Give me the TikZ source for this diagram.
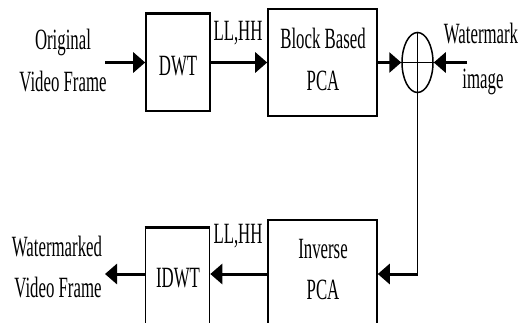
\documentclass[tikz,border=0pt]{standalone}
\usepackage{fontspec}
\setmainfont{Liberation Serif}
\usetikzlibrary{arrows.meta,shapes.geometric}
\begin{document}
\begin{tikzpicture}[x=1pt,y=-1pt,
  box/.style={draw,line width=1.6pt,rectangle,inner sep=0pt},
  lbl/.style={inner sep=0pt,yscale=1.75,font=\fontsize{16.8}{20}\selectfont},
  arr/.style={line width=3pt,-{Triangle[length=12pt,width=20pt]}},
  thin/.style={line width=1.5pt}]
\useasboundingbox (0,0) rectangle (527,323);
\clip (0,0) rectangle (527,323);
% boxes
\node[box,minimum width=64pt,minimum height=97pt] (dwt) at (178,62.5) {};
\node[box,minimum width=109pt,minimum height=107pt] (bpca) at (322.5,62.5) {};
\node[box,minimum width=109pt,minimum height=108pt] (ipca) at (322.5,274) {};
\node[box,minimum width=64pt,minimum height=100pt] (idwt) at (177.5,278) {};
\node[draw,thin,ellipse,minimum width=31pt,minimum height=60pt,inner sep=0pt] (sum) at (417.5,62.5) {};
\draw[line width=3pt] (dwt.north west) -- (dwt.north east);
\draw[line width=2.5pt] (idwt.north west) -- (idwt.north east);
% box texts
\node[lbl] (tdwt) at (178,66) {DWT};
\node[lbl] (tb1) at (323,38) {Block Based};
\node[lbl] (tb2) at (323,81) {PCA};
\node[lbl] (ti1) at (323,249) {Inverse};
\node[lbl] (ti2) at (323,290) {PCA};
\node[lbl] (tidwt) at (178,278) {IDWT};
% outer labels
\node[lbl] (o1) at (63,42) {Original};
\node[lbl] (o2) at (63,82) {Video Frame};
\node[lbl] (w1) at (57,247) {Watermarked};
\node[lbl] (w2) at (58,288) {Video Frame};
\node[lbl] (ll1) at (238,33) {LL,HH};
\node[lbl] (ll2) at (238,236) {LL,HH};
\node[lbl] (wm1) at (481,34) {Watermark};
\node[lbl] (wm2) at (483,82) {image};
% coordinates
\coordinate (in) at (105,62.5);
\coordinate (out) at (105,274);
\coordinate (wm) at (467,62.5);
\coordinate (turn) at (417.5,274);
% cross inside summing junction
\draw[thin] (sum.north) -- (sum.south);
\draw[thin] (sum.west) -- (sum.east);
% connectors
\draw[arr] (in) -- (dwt.west);
\draw[arr] (dwt.east) -- (bpca.west);
\draw[arr] (bpca.east) -- (sum.west);
\draw[arr] (wm) -- (sum.east);
\draw[thin] (sum.south) -- (turn);
\draw[arr] (turn) -- (ipca.east);
\draw[arr] (ipca.west) -- (ipca.west -| idwt.east);
\draw[arr] (idwt.west |- out) -- (out);
\end{tikzpicture}
\end{document}
